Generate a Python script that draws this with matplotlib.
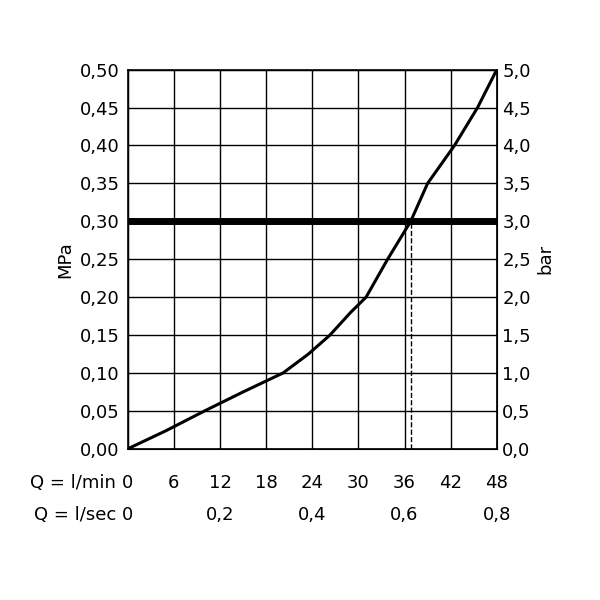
import matplotlib
matplotlib.use("Agg")
import matplotlib.pyplot as plt

# curve: flow (l/min) vs pressure (MPa)
flow = [0, 5, 10, 15, 20.2, 23.5, 26.3, 29, 31, 33.8, 36.8, 39, 42.5, 45.5, 48]
mpa = [0, 0.024, 0.05, 0.075, 0.10, 0.125, 0.15, 0.18, 0.20, 0.25, 0.30, 0.35, 0.40, 0.45, 0.50]

min_ticks = [0, 6, 12, 18, 24, 30, 36, 42, 48]
sec_ticks = [0, 12, 24, 36, 48]
sec_labels = ["0", "0,2", "0,4", "0,6", "0,8"]
mpa_ticks = [i * 0.05 for i in range(11)]
ref_pressure = 0.30
ref_flow = 36.8

fig = plt.figure(figsize=(6, 6), dpi=100)
ax = fig.add_axes([0.213, 0.252, 0.615, 0.632])
ax.plot(flow, mpa, color="black", lw=2.2)
ax.axhline(ref_pressure, color="black", lw=5)
ax.plot([ref_flow, ref_flow], [0, ref_pressure], color="black", lw=1, ls="--")

ax.set_xlim(0, 48)
ax.set_ylim(0, 0.5)
ax.set_xticks(min_ticks)
ax.set_yticks(mpa_ticks)
ax.set_xticklabels([])
ax.set_yticklabels([f"{v:.2f}".replace(".", ",") for v in mpa_ticks], fontsize=13)
ax.grid(True, color="black", lw=1)
ax.tick_params(length=0, pad=6)
for s in ax.spines.values():
    s.set_linewidth(1.2)
ax.set_ylabel("MPa", fontsize=13)

ax2 = ax.twinx()
ax2.set_ylim(0, 5)
ax2.set_yticks([i * 0.5 for i in range(11)])
ax2.set_yticklabels([f"{v:.1f}".replace(".", ",") for v in ax2.get_yticks()], fontsize=13)
ax2.tick_params(length=0, pad=4)
ax2.set_ylabel("bar", fontsize=13, rotation=90)

trans = ax.get_xaxis_transform()
for v in min_ticks:
    ax.text(v, -0.09, str(v), transform=trans, ha="center", va="center", fontsize=13)
for v, l in zip(sec_ticks, sec_labels):
    ax.text(v, -0.175, l, transform=trans, ha="center", va="center", fontsize=13)
ax.text(-1.5, -0.09, "Q = l/min", transform=trans, ha="right", va="center", fontsize=13)
ax.text(-1.5, -0.175, "Q = l/sec", transform=trans, ha="right", va="center", fontsize=13)

fig.savefig("out.png")
